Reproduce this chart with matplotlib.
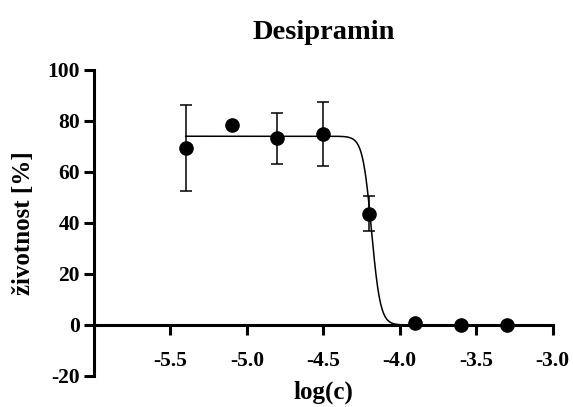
import numpy as np
import matplotlib
matplotlib.use("Agg")
import matplotlib.pyplot as plt

plt.rcParams['font.family'] = ['Liberation Serif', 'DejaVu Serif']
plt.rcParams['font.weight'] = 'bold'

# Viability measurements (log concentration vs. % viability, mean ± SD)
log_c = [-5.4, -5.1, -4.8, -4.5, -4.2, -3.9, -3.6, -3.3]
viability = [69.5, 78.5, 73.4, 75.0, 43.7, 0.7, 0.0, 0.0]
err_low = [17.1, 0.0, 10.1, 12.5, 6.9, 0.0, 0.0, 0.0]
err_high = [16.7, 0.0, 9.7, 12.4, 6.7, 0.0, 0.0, 0.0]

# Four-parameter logistic fit
fit_top = 74.0
fit_bottom = 0.0
fit_log_ic50 = -4.185
fit_hill = 15.0

x_ticks = [-5.5, -5.0, -4.5, -4.0, -3.5, -3.0]
y_ticks = [-20, 0, 20, 40, 60, 80, 100]

fig = plt.figure(figsize=(5.73, 4.07), dpi=100)
ax = fig.add_axes([0.164, 0.0762, 0.8006, 0.752])

xx = np.linspace(min(log_c), max(log_c), 600)
yy = fit_bottom + (fit_top - fit_bottom) / (1 + 10 ** ((xx - fit_log_ic50) * fit_hill))
ax.plot(xx, yy, color='black', lw=1.1, zorder=3)

ax.errorbar(log_c, viability, yerr=[err_low, err_high], fmt='o', color='black',
            ms=9.5, elinewidth=1.1, capsize=4.5, capthick=1.1, zorder=4)

ax.set_xlim(-6.0, -3.0)
ax.set_ylim(-20, 100)
ax.set_xticks(x_ticks)
ax.set_xticklabels([f"{v:.1f}" for v in x_ticks])
ax.set_yticks(y_ticks)
ax.set_yticklabels([str(v) for v in y_ticks])

for side in ('top', 'right'):
    ax.spines[side].set_visible(False)
ax.spines['bottom'].set_position(('data', 0))
ax.spines['bottom'].set_linewidth(2.2)
ax.spines['left'].set_linewidth(2.2)
ax.spines['bottom'].set_capstyle('projecting')
ax.spines['left'].set_capstyle('projecting')

ax.tick_params(axis='both', which='major', width=2.2, length=7, labelsize=15.5,
               pad=3)
ax.tick_params(axis='x', pad=12)

ax.set_title('Desipramin', fontsize=20.5, fontweight='bold', pad=22)
ax.set_xlabel('log(c)', fontsize=18, fontweight='bold')
ax.xaxis.set_label_coords(0.5, -0.016)
ax.set_ylabel('životnost [%]', fontsize=18, fontweight='bold', labelpad=9)

fig.savefig('out.png', dpi=100)
